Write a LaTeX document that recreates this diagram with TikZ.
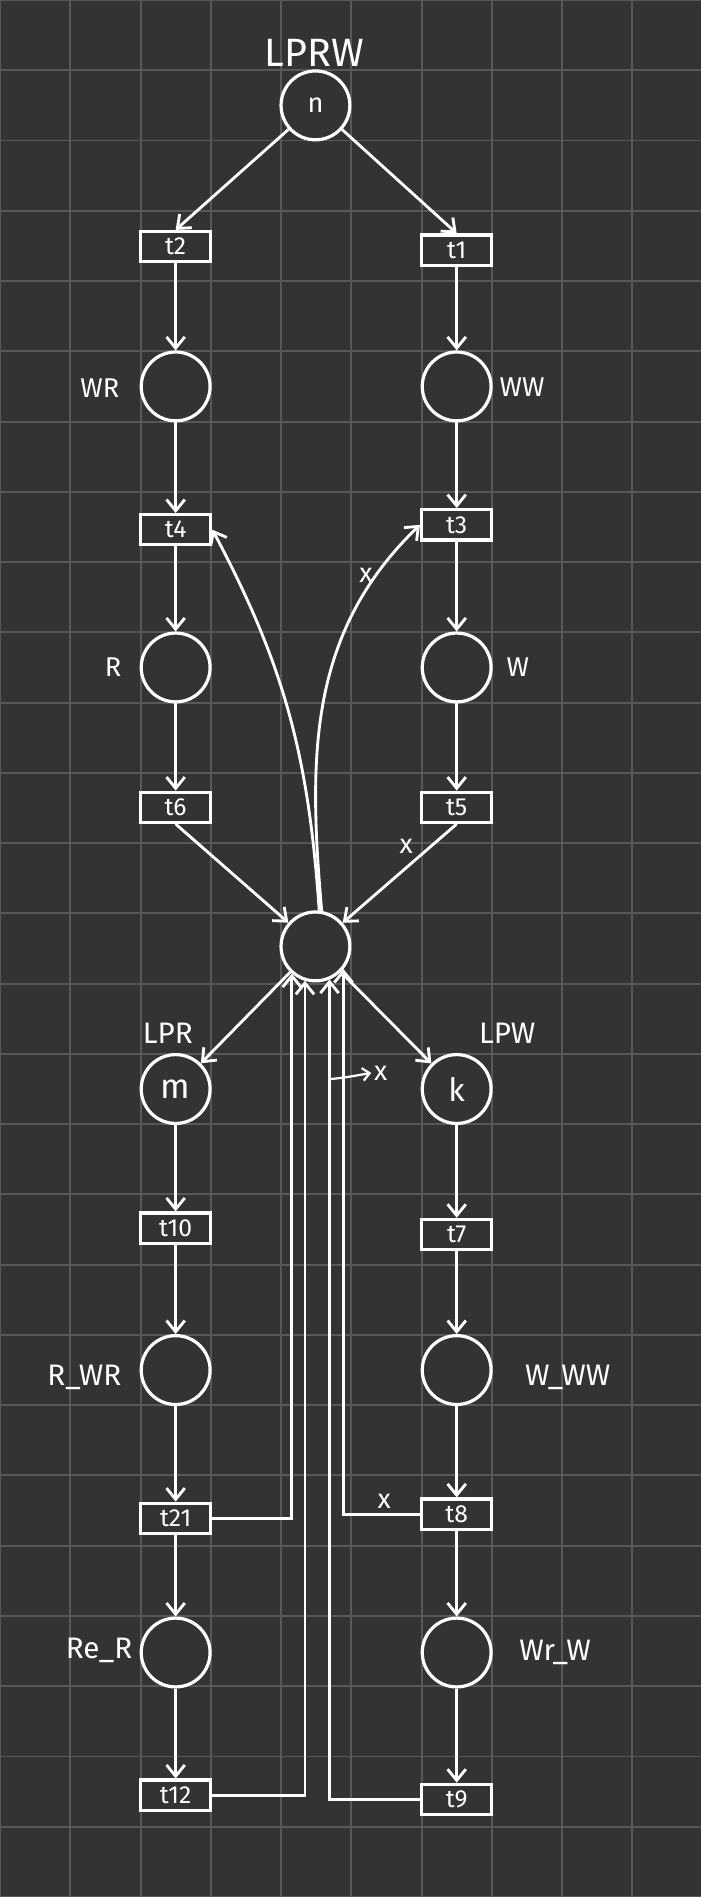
\documentclass[tikz,border=0pt]{standalone}
\usepackage{fontspec}
\setmainfont{Fira Sans}
\usetikzlibrary{arrows.meta}
\definecolor{boardbg}{RGB}{51,51,51}
\definecolor{boardgrid}{RGB}{88,88,88}

\begin{document}
\begin{tikzpicture}[
    place/.style={draw=white, circle, line width=1.3pt, minimum size=0.98cm,
        inner sep=0pt, text=white, font=\fontsize{12}{14}\selectfont},
    trans/.style={draw=white, rectangle, line width=1.3pt, minimum width=1cm,
        minimum height=0.43cm, inner sep=0pt, text=white, font=\fontsize{10}{12}\selectfont},
    tag/.style={text=white, font=\fontsize{11}{13}\selectfont, inner sep=1pt},
    weight/.style={text=white, font=\fontsize{11}{13}\selectfont, inner sep=1pt},
    arc/.style={->, draw=white, line width=1.15pt},
    >={Straight Barb[length=1.6mm, width=2.6mm]}
]

% Board (dark background with 1cm grid)
\useasboundingbox (0,0) rectangle (9.98,-27);
\fill[boardbg] (0,0) rectangle (9.98,-27);
\draw[boardgrid, line width=0.8pt] (0,-27) grid (9.98,0);

% Top place
\node[tag, font=\fontsize{16}{18}\selectfont] (lprwtag) at (4.47,-0.76) {LPRW};
\node[place, font=\fontsize{11}{13}\selectfont] (lprw) at (4.49,-1.5) {n};

% Reader column
\node[trans] (t2)  at (2.5,-3.51)  {t2};
\node[place] (wr)  at (2.5,-5.5)   {};
\node[trans] (t4)  at (2.5,-7.54)  {t4};
\node[place] (rd)  at (2.5,-9.5)   {};
\node[trans] (t6)  at (2.5,-11.49) {t6};
\node[tag] (wrtag) at (1.42,-5.52) {WR};
\node[tag] (rdtag) at (1.61,-9.49) {R};

% Writer column
\node[trans] (t1)  at (6.5,-3.56)  {t1};
\node[place] (ww)  at (6.5,-5.5)   {};
\node[trans] (t3)  at (6.5,-7.47)  {t3};
\node[place] (wt)  at (6.5,-9.5)   {};
\node[trans] (t5)  at (6.5,-11.49) {t5};
\node[tag] (wwtag) at (7.43,-5.51) {WW};
\node[tag] (wttag) at (7.37,-9.49) {W};

% Shared place in the middle
\node[place] (res) at (4.49,-13.47) {};

% Lower reader column
\node[tag, font=\fontsize{12}{14}\selectfont] (lprtag) at (2.39,-14.7) {LPR};
\node[place, font=\fontsize{14}{16}\selectfont] (lpr) at (2.5,-15.5) {m};
\node[trans] (t10) at (2.5,-17.48) {t10};
\node[place] (rwr) at (2.5,-19.5)  {};
\node[trans] (t21) at (2.5,-21.61) {t21};
\node[place] (rer) at (2.5,-23.52) {};
\node[trans] (t12) at (2.5,-25.55) {t12};
\node[tag, font=\fontsize{12}{14}\selectfont] (rwrtag) at (1.2,-19.6)  {R\_WR};
\node[tag, font=\fontsize{12}{14}\selectfont] (rertag) at (1.41,-23.49) {Re\_R};

% Lower writer column
\node[tag, font=\fontsize{12}{14}\selectfont] (lpwtag) at (7.22,-14.7) {LPW};
\node[place, font=\fontsize{13}{15}\selectfont] (lpw) at (6.5,-15.5) {k};
\node[trans] (t7)  at (6.5,-17.57) {t7};
\node[place] (www) at (6.5,-19.5)  {};
\node[trans] (t8)  at (6.5,-21.55) {t8};
\node[place] (wrw) at (6.5,-23.52) {};
\node[trans] (t9)  at (6.5,-25.61) {t9};
\node[tag, font=\fontsize{12}{14}\selectfont] (wwwtag) at (8.08,-19.6)  {W\_WW};
\node[tag, font=\fontsize{12}{14}\selectfont] (wrwtag) at (7.9,-23.52)  {Wr\_W};

% Arcs from the top place
\draw[arc] (lprw) -- (t2.north);
\draw[arc] (lprw) -- (t1.north);

% Reader and writer chains
\draw[arc] (t2) -- (wr);
\draw[arc] (wr) -- (t4);
\draw[arc] (t4) -- (rd);
\draw[arc] (rd) -- (t6);
\draw[arc] (t1) -- (ww);
\draw[arc] (ww) -- (t3);
\draw[arc] (t3) -- (wt);
\draw[arc] (wt) -- (t5);

% Into and out of the shared place
\draw[arc] (t6.south) -- (res);
\draw[arc] (t5.south) -- (res);
\draw[arc] (res.84) to[out=94, in=-62] (t4.east);
\draw[arc] (res.80) to[out=95, in=-136] (t3.west);
\draw[arc] (res) -- (lpr);
\draw[arc] (res) -- (lpw);

% Lower chains
\draw[arc] (lpr) -- (t10);
\draw[arc] (t10) -- (rwr);
\draw[arc] (rwr) -- (t21);
\draw[arc] (t21) -- (rer);
\draw[arc] (rer) -- (t12);
\draw[arc] (lpw) -- (t7);
\draw[arc] (t7) -- (www);
\draw[arc] (www) -- (t8);
\draw[arc] (t8) -- (wrw);
\draw[arc] (wrw) -- (t9);

% Returns to the shared place
\draw[arc] (t21.east) -| (res.-131);
\draw[arc] (t12.east) -| (res.-107);
\draw[arc] (t9.west)  -| (res.-67);
\draw[arc] (t8.west)  -| (res.-39);

% Arc weights
\node[weight] (w3) at (5.21,-8.19)  {x};
\node[weight] (w5) at (5.78,-12.04) {x};
\node[weight] (w8) at (5.47,-21.37) {x};
\coordinate (w9foot) at (4.68,-15.36);
\node[weight] (w9) at (5.42,-15.27) {x};
\draw[->, draw=white, line width=0.9pt, >={Straight Barb[length=1mm, width=1.8mm]}]
      (w9foot) to[out=5, in=190] (w9.west);

\end{tikzpicture}
\end{document}
